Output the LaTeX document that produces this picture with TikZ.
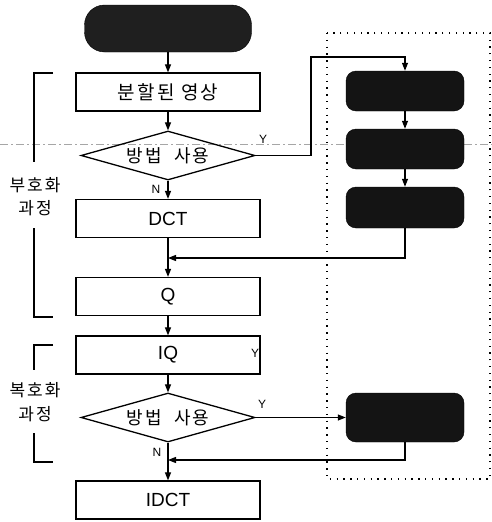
\documentclass[tikz,border=0pt]{standalone}
\usepackage{fontspec}
\setmainfont{Liberation Sans}
\newfontfamily\kr[LetterSpace=12]{Noto Sans CJK KR}
\usetikzlibrary{shapes.geometric,arrows.meta}
\begin{document}
\begin{tikzpicture}[x=1pt,y=-1pt,
 proc/.style={draw,line width=1.3pt,minimum width=184pt,minimum height=38pt,inner sep=0pt,font=\fontsize{19}{22}\selectfont},
 dec/.style={draw,diamond,line width=1.3pt,minimum width=174pt,minimum height=49pt,inner sep=0pt,aspect=3.5,font=\kr\fontsize{18}{21}\selectfont},
 dark/.style={fill=black!92,draw=black,rounded corners=10pt,minimum width=118pt,inner sep=0pt},
 flow/.style={line width=1.2pt,-{Triangle[length=8pt,width=6pt]}},
 plain/.style={line width=1.2pt},
 lab/.style={font=\fontsize{12}{14}\selectfont,inner sep=0pt},
 side/.style={font=\kr\fontsize{17}{20}\selectfont,inner sep=0pt}
]
\useasboundingbox (0,0) rectangle (492,522);
% background scan line and dotted frame
\draw[gray!70,line width=0.5pt,dash pattern=on 8pt off 3pt on 2pt off 3pt] (0,144) -- (492,144);
\draw[line width=1.2pt,dash pattern=on 1.3pt off 5.5pt] (327,33) rectangle (490,479);
% main column
\node[dark,fill=black!88,rounded corners=20pt,minimum width=167pt,minimum height=47pt] (start) at (168,28.5) {};
\node[proc] (b1) at (168,92) {\kr 분할된 영상};
\node[dec] (d1) at (168,155.5) {방법\ \ 사용};
\node[proc] (dct) at (168,218.5) {DCT};
\node[proc] (q) at (168,296.5) {Q};
\node[proc] (iq) at (168,355) {IQ};
\node[dec] (d2) at (168,417.5) {방법\ \ 사용};
\node[proc] (idct) at (168,500) {IDCT};
% right column
\node[dark,minimum height=40pt] (r1) at (405,91) {};
\node[dark,minimum height=40pt] (r2) at (405,149) {};
\node[dark,minimum height=41pt] (r3) at (405,207.5) {};
\node[dark,minimum height=49pt] (r4) at (405,417.5) {};
% helper coordinates
\coordinate (ytop) at (311,57);
\coordinate (m1) at (168,258);
\coordinate (m2) at (168,460);
% connectors
\draw[flow] (start) -- (b1);
\draw[flow] (b1) -- (d1);
\draw[flow] (d1.east) -| (ytop) -| (r1.north);
\draw[flow] (r1) -- (r2);
\draw[flow] (r2) -- (r3);
\draw[flow] (r3.south) |- (m1);
\draw[flow] (d1) -- (dct);
\draw[flow] (dct) -- (q);
\draw[flow] (q) -- (iq);
\draw[flow] (iq) -- (d2);
\draw[flow] (d2.east) -- (r4.west);
\draw[flow] (r4.south) |- (m2);
\draw[flow] (d2) -- (idct);
% labels
\node[lab] (y1) at (263,139) {Y};
\node[lab] (n1) at (156,189) {N};
\node[lab] (y2) at (255,353) {Y};
\node[lab] (y3) at (262,404) {Y};
\node[lab] (n2) at (157,452) {N};
% brackets
\draw[plain] (53,73) -- (34,73) -- (34,162);
\draw[plain] (34,228) -- (34,317) -- (53,317);
\node[side] (enc1) at (35,185) {부호화};
\node[side] (enc2) at (35,208) {과정};
\draw[plain] (53,345) -- (34,345) -- (34,370);
\draw[plain] (34,433) -- (34,462) -- (53,462);
\node[side] (dec1) at (35,390) {복호화};
\node[side] (dec2) at (35,414) {과정};
\end{tikzpicture}
\end{document}
